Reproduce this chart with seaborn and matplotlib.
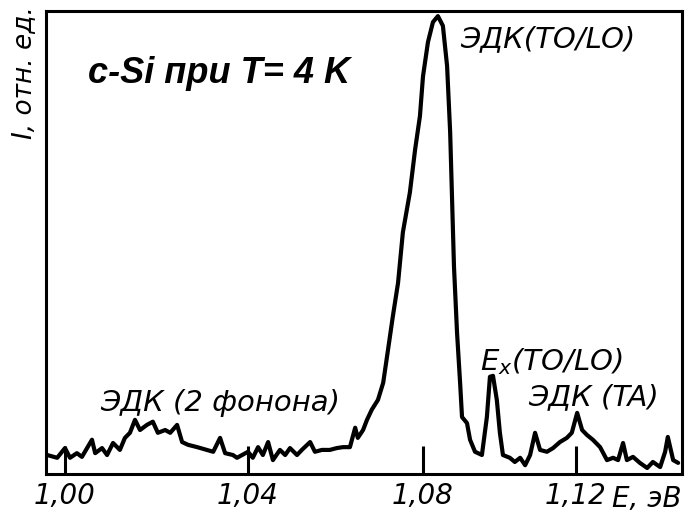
import numpy as np
import matplotlib
matplotlib.use("Agg")
import matplotlib.pyplot as plt
import seaborn as sns
import pandas as pd

# ---------------- data ----------------
energy = [0.9961, 0.9983, 1.0000, 1.0011, 1.0026, 1.0037, 1.0059, 1.0066, 1.0081, 1.0092,
          1.0105, 1.0120, 1.0131, 1.0142, 1.0153, 1.0164, 1.0179, 1.0192, 1.0203, 1.0219,
          1.0230, 1.0245, 1.0256, 1.0269, 1.0289, 1.0310, 1.0324, 1.0339, 1.0350, 1.0367,
          1.0376, 1.0400, 1.0411, 1.0423, 1.0434, 1.0446, 1.0457, 1.0473, 1.0485, 1.0496,
          1.0512, 1.0523, 1.0542, 1.0553, 1.0569, 1.0587, 1.0603, 1.0617, 1.0633, 1.0645,
          1.0651, 1.0663, 1.0672, 1.0683, 1.0697, 1.0709, 1.0720, 1.0731, 1.0743, 1.0754,
          1.0770, 1.0782, 1.0793, 1.0800, 1.0813, 1.0826, 1.0839, 1.0852, 1.0863, 1.0871,
          1.0876, 1.0881, 1.0889, 1.0897, 1.0902, 1.0915, 1.0923, 1.0936, 1.0954, 1.0967,
          1.0975, 1.0983, 1.0993, 1.1001, 1.1009, 1.1027, 1.1040, 1.1054, 1.1067, 1.1080,
          1.1093, 1.1106, 1.1124, 1.1140, 1.1158, 1.1176, 1.1189, 1.1203, 1.1216, 1.1229,
          1.1244, 1.1263, 1.1281, 1.1297, 1.1310, 1.1323, 1.1333, 1.1349, 1.1367, 1.1386,
          1.1401, 1.1420, 1.1433, 1.1440, 1.1454, 1.1467]
intensity = [4.1, 3.5, 5.6, 3.5, 4.5, 3.7, 7.4, 4.5, 5.6, 4.1,
             6.7, 5.2, 7.8, 8.9, 11.7, 9.5, 10.6, 11.3, 8.9, 9.5,
             8.9, 10.6, 6.9, 6.3, 5.8, 5.2, 4.8, 7.8, 4.5, 4.1,
             3.5, 4.8, 3.5, 5.8, 4.1, 6.9, 3.0, 5.2, 4.1, 5.6,
             4.1, 5.2, 6.9, 4.8, 5.2, 5.2, 5.6, 5.8, 5.8, 10.0,
             7.8, 9.5, 11.7, 13.9, 16.0, 19.7, 26.8, 34.0, 41.3, 52.2,
             60.8, 70.1, 77.3, 85.9, 93.3, 97.6, 98.9, 96.8, 88.1, 73.8,
             59.3, 44.8, 30.5, 19.7, 12.3, 11.0, 7.4, 4.8, 4.1, 12.3,
             21.0, 21.2, 16.0, 8.9, 4.1, 3.5, 2.6, 3.5, 1.9, 4.1,
             8.9, 5.2, 4.8, 5.6, 6.9, 7.8, 8.9, 13.2, 9.5, 8.4,
             7.4, 5.8, 3.0, 3.5, 3.0, 6.7, 3.0, 3.7, 2.4, 1.3,
             2.6, 1.5, 4.8, 8.0, 3.0, 2.4]

tick_values = [1.00, 1.04, 1.08, 1.12]
tick_labels = ["1,00", "1,04", "1,08", "1,12"]

title_text = "c-Si при T= 4 K"
ylabel_text = "I, отн. ед."
xlabel_text = "E, эВ"
ann_main = "ЭДК(TO/LO)"
ann_2ph = "ЭДК (2 фонона)"
ann_ex = "$E_x$(TO/LO)"
ann_ta = "ЭДК (TA)"

# ---------------- style ----------------
sns.set_style("white")
plt.rcParams["font.family"] = ["DejaVu Sans"]
plt.rcParams["mathtext.fontset"] = "dejavusans"
plt.rcParams["text.color"] = "black"
plt.rcParams["xtick.color"] = "black"
plt.rcParams["xtick.labelcolor"] = "black"

W, H = 689, 514
fig = plt.figure(figsize=(W / 100, H / 100), dpi=100)
ax = fig.add_axes([46 / W, 1 - 474 / H, (682 - 46) / W, (474 - 11) / H])

df = pd.DataFrame({"E": energy, "I": intensity})
sns.lineplot(data=df, x="E", y="I", ax=ax, color="black", linewidth=3.0, sort=False)

# non-uniform energy axis as drawn in the original (scanned) figure
knot_E = [0.90, 1.00, 1.04, 1.08, 1.12, 1.25]
knot_P = [-457.5, 0.0, 183.0, 358.0, 511.0, 1008.25]
def fwd(v):
    return np.interp(np.asarray(v, dtype=float), knot_E, knot_P)
def inv(v):
    return np.interp(np.asarray(v, dtype=float), knot_P, knot_E)
ax.set_xscale("function", functions=(fwd, inv))
ax.set_xlim(0.99585, 1.14771)
ax.set_ylim(0, 100)

ax.set_xticks(tick_values)
ax.set_xticklabels(tick_labels, fontstyle="italic", fontsize=20, color="black")
ax.xaxis.set_minor_locator(matplotlib.ticker.NullLocator())
ax.set_yticks([])
ax.tick_params(axis="x", direction="in", length=20, width=2.2, color="black", pad=6,
               bottom=True, top=False)
for s in ax.spines.values():
    s.set_visible(True)
    s.set_color("black")
    s.set_linewidth(2.2)
ax.set_xlabel("")
ax.set_ylabel("")

def ftxt(x, y, s, **kw):
    fig.text(x / W, 1 - y / H, s, color="black", **kw)

ftxt(88, 83, title_text, fontsize=26, fontweight="bold", fontstyle="italic",
     family=["Liberation Sans", "DejaVu Sans"], ha="left", va="baseline")
ftxt(24, 73, ylabel_text, fontsize=19, fontstyle="italic",
     rotation=90, ha="center", va="center")
ftxt(460, 47, ann_main, fontsize=21, fontstyle="italic", ha="left", va="baseline")
ftxt(100, 411, ann_2ph, fontsize=21, fontstyle="italic", ha="left", va="baseline")
ftxt(480, 370, ann_ex, fontsize=21, fontstyle="italic", ha="left", va="baseline")
ftxt(528, 405, ann_ta, fontsize=21, fontstyle="italic", ha="left", va="baseline")
ftxt(612, 507, xlabel_text, fontsize=20, fontstyle="italic", ha="left", va="baseline")

fig.savefig("out.png", dpi=100, facecolor="white")
